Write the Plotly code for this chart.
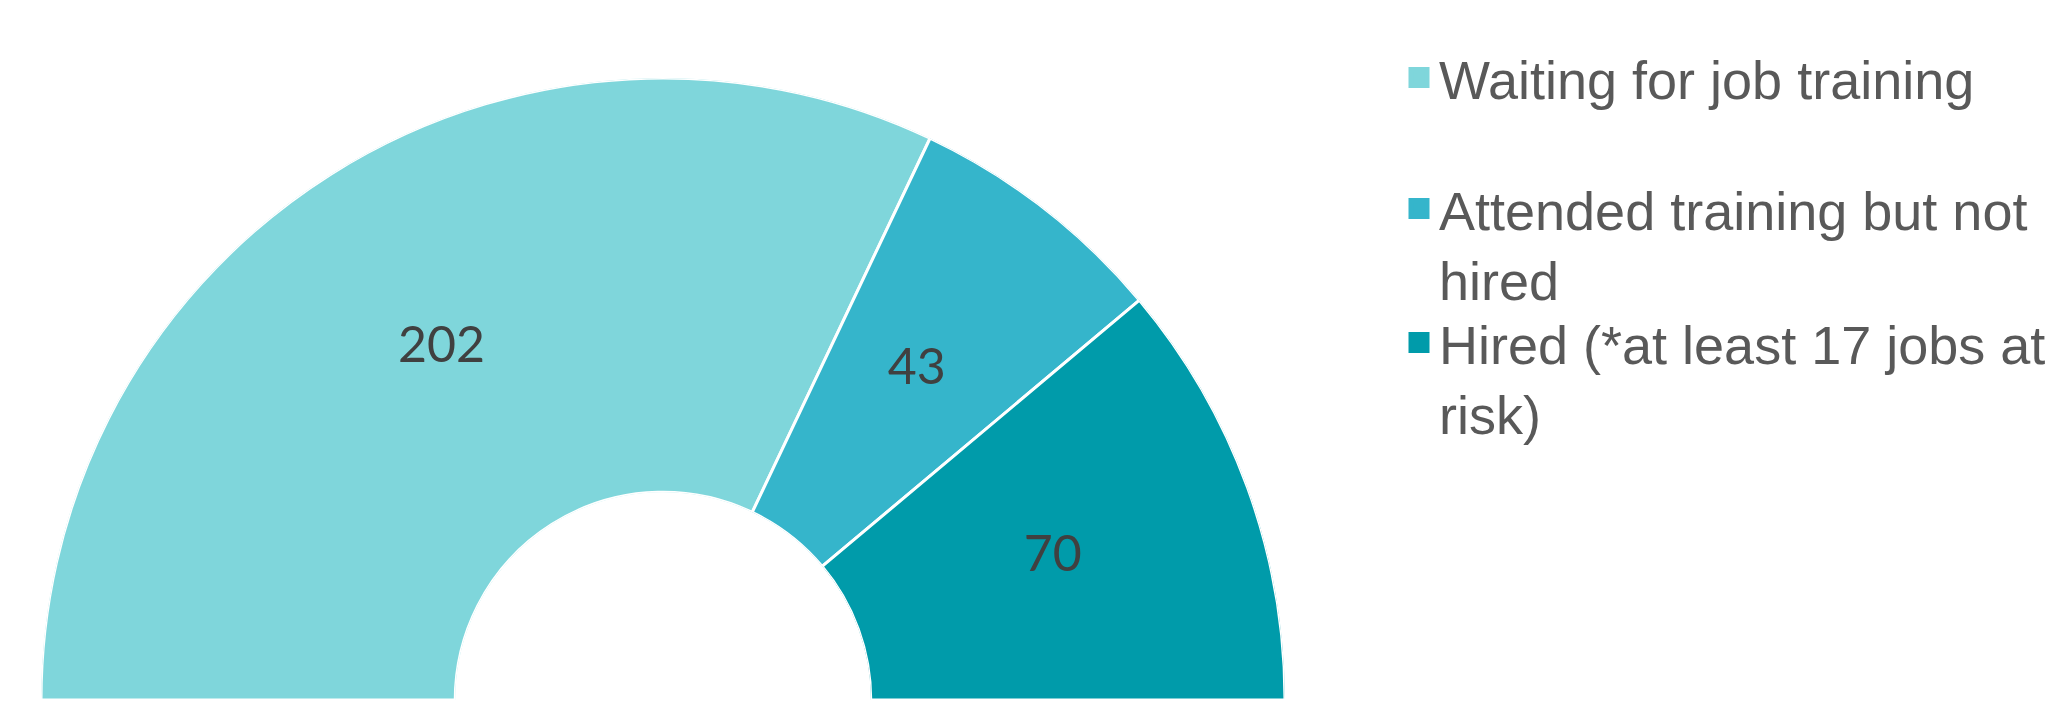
import plotly.graph_objects as go

categories = ["Waiting for job training", "Attended training but not hired", "Hired (*at least 17 jobs at risk)"]
legend_labels = ["Waiting for job training", "Attended training but not<br>hired", "Hired (*at least 17 jobs at<br>risk)"]
values = [202, 43, 70]
colors = ["#7FD6DB", "#35B5CB", "#009BAA"]

total = sum(values)
spans = [v / total * 180.0 for v in values]
starts = []
acc = 0.0
for s in spans:
    starts.append(acc)
    acc += s
mids = [st + s / 2 for st, s in zip(starts, spans)]

fig = go.Figure()

fig.add_trace(go.Barpolar(
    r=[1] * len(values),
    theta=mids,
    width=spans,
    marker=dict(color=colors, line=dict(color="white", width=3)),
    showlegend=False,
    hoverinfo="skip",
))

fig.add_trace(go.Scatterpolar(
    r=[0.5] * len(values),
    theta=mids,
    mode="text",
    text=[str(v) for v in values],
    textfont=dict(family="Lato", size=50, color="#404040"),
    showlegend=False,
    hoverinfo="skip",
))

legend_names = ["legend", "legend2", "legend3"]
for lab, col, lg in zip(legend_labels, colors, legend_names):
    fig.add_trace(go.Scatterpolar(
        r=[None], theta=[None], mode="markers",
        name=lab,
        marker=dict(symbol="square", size=16, color=col, line=dict(color=col, width=5)),
        legend=lg,
        showlegend=True,
    ))

H = 726.0
W = 2064.0
leg_common = dict(
    font=dict(family="Liberation Sans, Arial", size=54, color="#595959"),
    bgcolor="rgba(0,0,0,0)",
    xanchor="left", yanchor="top",
    valign="top",
    itemsizing="trace",
)
leg_tops = [28, 159, 293]
leg_x = 1391

fig.update_layout(
    width=2064, height=726,
    margin=dict(l=0, r=0, t=0, b=0),
    paper_bgcolor="white",
    plot_bgcolor="white",
    polar=dict(
        domain=dict(x=[33 / W, 1277 / W], y=[34 / H, 656 / H]),
        sector=[0, 180],
        hole=0.334,
        bgcolor="white",
        angularaxis=dict(direction="clockwise", rotation=180, visible=False,
                         showgrid=False, showline=False, showticklabels=False, ticks=""),
        radialaxis=dict(range=[0, 1], visible=False, showgrid=False,
                        showline=False, showticklabels=False, ticks=""),
    ),
    legend=dict(x=leg_x / W, y=1 - leg_tops[0] / H, **leg_common),
    legend2=dict(x=leg_x / W, y=1 - leg_tops[1] / H, **leg_common),
    legend3=dict(x=leg_x / W, y=1 - leg_tops[2] / H, **leg_common),
)

fig.write_html("out.html")
